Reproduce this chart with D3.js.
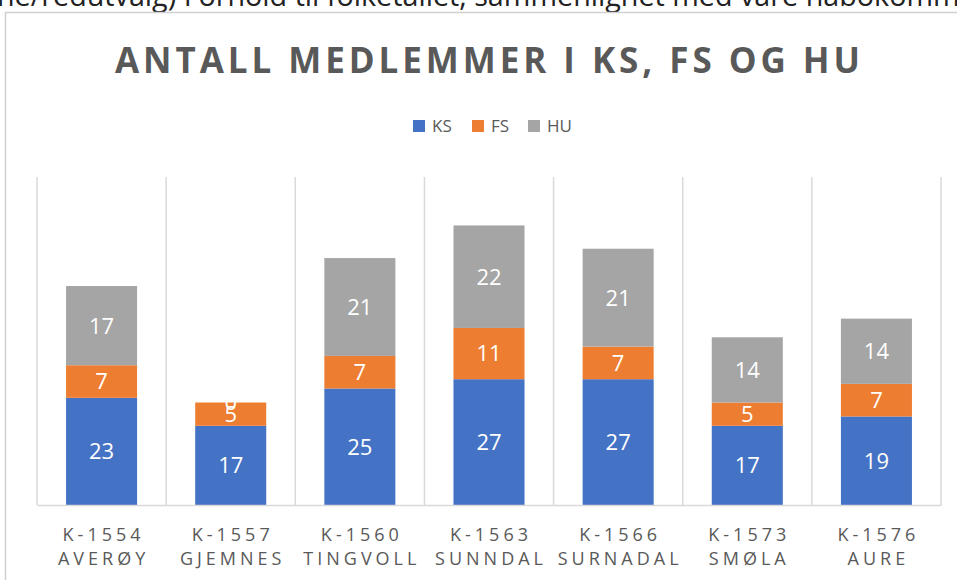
<!DOCTYPE html>
<html>
<head>
<meta charset="utf-8">
<script src="https://cdn.jsdelivr.net/npm/d3@7"></script>
<style>
  html, body { margin: 0; padding: 0; background: #fff; overflow: hidden; }
  svg { display: block; }
</style>
</head>
<body>
<svg id="chart" width="957" height="580"></svg>
<script>
// ---- data ----
const codes = ["K-1554", "K-1557", "K-1560", "K-1563", "K-1566", "K-1573", "K-1576"];
const names = ["AVERØY", "GJEMNES", "TINGVOLL", "SUNNDAL", "SURNADAL", "SMØLA", "AURE"];
const seriesNames = ["KS", "FS", "HU"];
const ksValues = [23, 17, 25, 27, 27, 17, 19];
const fsValues = [7, 5, 7, 11, 7, 5, 7];
const huValues = [17, 0, 21, 22, 21, 14, 14];
const yMax = 70;
const titleText = "ANTALL MEDLEMMER I KS, FS OG HU";
const topLine = "ne/redutvalg) Forhold til folketallet, sammenlignet med våre nabokommuner";

// ---- build table ----
const table = codes.map((c, i) => ({ code: c, name: names[i], KS: ksValues[i], FS: fsValues[i], HU: huValues[i] }));
const colors = { KS: "#4472C4", FS: "#ED7D31", HU: "#A5A5A5" };
const textColor = "#595959";
const gridColor = "#D9D9D9";

const svg = d3.select("#chart");

// cropped line of document text above the chart
const tl = svg.append("text")
  .attr("x", -3).attr("y", 6)
  .attr("font-family", "'Open Sans', sans-serif")
  .attr("font-size", 25)
  .attr("fill", "#222")
  .text(topLine);
const endIdx = topLine.indexOf("nabokomm") + 8;
const subLen = tl.node().getSubStringLength(0, endIdx);
tl.attr("font-size", 25 * 963 / subLen);

// chart frame
svg.append("path")
  .attr("d", "M5.5,580 L5.5,12.5 L960,12.5")
  .attr("fill", "none")
  .attr("stroke", "#D0D0D0")
  .attr("stroke-width", 1.5);

const plot = { left: 37, right: 941, top: 177, bottom: 505 };

const x = d3.scaleBand()
  .domain(codes)
  .range([plot.left, plot.right])
  .paddingInner(0.45)
  .paddingOuter(0.225);

const y = d3.scaleLinear()
  .domain([0, yMax])
  .range([plot.bottom, plot.bottom - (plot.bottom - plot.top) * yMax / 70.4]);

// vertical category separators
const step = x.step();
const boundaries = d3.range(codes.length + 1).map(i => plot.left + i * step);
svg.append("g").selectAll("line")
  .data(boundaries).join("line")
  .attr("x1", d => d).attr("x2", d => d)
  .attr("y1", plot.top).attr("y2", plot.bottom)
  .attr("stroke", gridColor).attr("stroke-width", 1.5);

// stacked bars
const stack = d3.stack().keys(seriesNames)(table);
const layers = svg.append("g").selectAll("g")
  .data(stack).join("g")
  .attr("fill", d => colors[d.key]);

layers.selectAll("rect")
  .data(d => d.map(v => ({ key: d.key, v })))
  .join("rect")
  .attr("x", d => x(d.v.data.code))
  .attr("width", x.bandwidth())
  .attr("y", d => y(d.v[1]))
  .attr("height", d => y(d.v[0]) - y(d.v[1]));

// data labels
const labels = svg.append("g");
stack.forEach(layer => {
  layer.forEach(v => {
    labels.append("text")
      .attr("x", x(v.data.code) + x.bandwidth() / 2)
      .attr("y", (y(v[0]) + y(v[1])) / 2)
      .attr("dy", "0.36em")
      .attr("text-anchor", "middle")
      .attr("font-family", "'Open Sans', sans-serif")
      .attr("font-size", 22)
      .attr("fill", "#fff")
      .text(v.data[layer.key]);
  });
});

// baseline axis
const xAxis = d3.axisBottom(x).tickSize(0).tickFormat("");
const axisG = svg.append("g").attr("transform", `translate(0,${plot.bottom})`).call(xAxis);
axisG.select(".domain").attr("stroke", gridColor).attr("stroke-width", 1.5);

// category labels (two lines)
const cat = svg.append("g");
table.forEach(d => {
  const cx = x(d.code) + x.bandwidth() / 2;
  [[d.code, 541], [d.name, 565]].forEach(([t, yy]) => {
    cat.append("text")
      .attr("x", cx + 2).attr("y", yy)
      .attr("text-anchor", "middle")
      .attr("font-family", "'Open Sans', sans-serif")
      .attr("font-size", 18)
      .attr("letter-spacing", "4px")
      .attr("fill", textColor)
      .text(t);
  });
});

// title
const title = svg.append("text")
  .attr("x", 115).attr("y", 73)
  .attr("font-family", "'Open Sans', sans-serif")
  .attr("font-weight", "bold")
  .attr("font-size", 35)
  .attr("fill", textColor)
  .text(titleText);
const tw = title.node().getComputedTextLength();
const ls = (860 - 115 - tw) / (titleText.length - 1);
title.attr("letter-spacing", ls + "px");

// legend
const legendX = [413, 472, 528];
const leg = svg.append("g");
seriesNames.forEach((s, i) => {
  leg.append("rect")
    .attr("x", legendX[i]).attr("y", 120)
    .attr("width", 12).attr("height", 12)
    .attr("fill", colors[s]);
  leg.append("text")
    .attr("x", legendX[i] + 19).attr("y", 132)
    .attr("font-family", "'Open Sans', sans-serif")
    .attr("font-size", 17)
    .attr("fill", textColor)
    .text(s);
});
</script>
</body>
</html>
